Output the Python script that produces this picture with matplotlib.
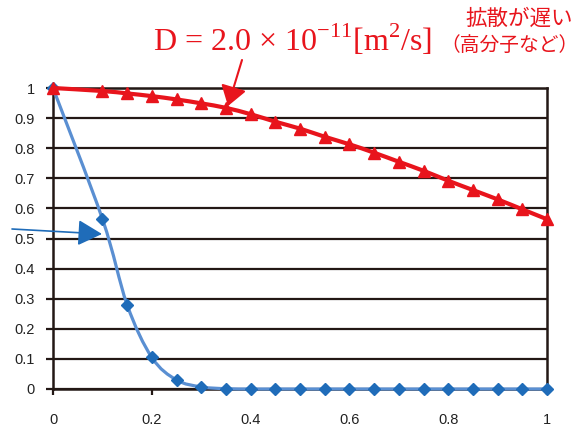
import numpy as np
import matplotlib
matplotlib.use("Agg")
import matplotlib.pyplot as plt
from matplotlib.path import Path
from matplotlib.patches import PathPatch, FancyArrowPatch

# data (no point at x=0.05)
x = [0.0, 0.1, 0.15, 0.2, 0.25, 0.3, 0.35, 0.4, 0.45, 0.5, 0.55,
     0.6, 0.65, 0.7, 0.75, 0.8, 0.85, 0.9, 0.95, 1.0]
fast = [1.0, 0.565, 0.28, 0.105, 0.03, 0.007, 0.001, 0.0, 0.0, 0.0, 0.0,
        0.0, 0.0, 0.0, 0.0, 0.0, 0.0, 0.0, 0.0, 0.0]
slow = [1.0, 0.99, 0.982, 0.973, 0.962, 0.949, 0.934, 0.913, 0.888, 0.865, 0.838,
        0.813, 0.785, 0.755, 0.725, 0.692, 0.661, 0.630, 0.597, 0.564]

xticks = [0, 0.2, 0.4, 0.6, 0.8, 1]
yticks = [0, 0.1, 0.2, 0.3, 0.4, 0.5, 0.6, 0.7, 0.8, 0.9, 1]

label_d = "D = 2.0 × 10$^{\\mathregular{-11}}$[m$^{\\mathregular{2}}$/s]"
label_jp1 = "拡散が遅い"
label_jp2 = "（高分子など）"

RED = "#e8141c"
BLUE_LINE = "#5a8fd2"
BLUE_MK = "#1f6cb9"
DARK = "#231815"


def smooth_path(xs, ys):
    # excel-like smoothed line: catmull-rom segments as cubic beziers
    p = np.column_stack([xs, ys])
    verts = [p[0]]
    codes = [Path.MOVETO]
    n = len(p)
    for i in range(n - 1):
        p0 = p[i - 1] if i > 0 else p[i]
        p3 = p[i + 2] if i + 2 < n else p[i + 1]
        c1 = p[i] + (p[i + 1] - p0) / 6
        c2 = p[i + 1] - (p3 - p[i]) / 6
        verts += [c1, c2, p[i + 1]]
        codes += [Path.CURVE4] * 3
    return Path(verts, codes)


fig = plt.figure(figsize=(5.82, 4.28), dpi=100)
ax = fig.add_axes([53 / 582, 39 / 428, 494 / 582, 301 / 428])

ax.set_xlim(0, 1)
ax.set_ylim(0, 1)
ax.set_yticks(yticks)
ax.set_yticklabels([f"{v:g}" for v in yticks])
ax.set_xticks(xticks)
ax.set_xticklabels([f"{v:g}" for v in xticks])
ax.grid(axis="y", color=DARK, linewidth=1.6)
ax.set_axisbelow(True)
for s in ax.spines.values():
    s.set_color(DARK)
    s.set_linewidth(1.8)
ax.tick_params(axis="y", direction="out", length=5, width=1.6, color=DARK,
               pad=8, labelsize=10.5, labelcolor="#222222")
ax.tick_params(axis="x", direction="out", length=4, width=1.6, color=DARK,
               pad=13, labelsize=10.5, labelcolor="#222222")
for t in ax.get_xticklabels() + ax.get_yticklabels():
    t.set_fontfamily("Liberation Sans")

ax.add_patch(PathPatch(smooth_path(x, fast), facecolor="none",
                       edgecolor=BLUE_LINE, linewidth=2.3, clip_on=False, zorder=3))
ax.plot(x, fast, linestyle="none", marker="D", markersize=6.2,
        color=BLUE_MK, clip_on=False, zorder=4)

ax.add_patch(PathPatch(smooth_path(x, slow), facecolor="none",
                       edgecolor=RED, linewidth=3, clip_on=False, zorder=5))
ax.plot(x, slow, linestyle="none", marker="^", markersize=8,
        color=RED, clip_on=False, zorder=6)

# annotations
fig.text(293 / 582, 1 - 40 / 428, label_d, color=RED, fontsize=23,
         family="Liberation Serif", ha="center", va="center")
fig.text(519 / 582, 1 - 19 / 428, label_jp1, color=RED, fontsize=15.5,
         family=["Noto Sans CJK JP", "DejaVu Sans"], ha="center", va="center")
fig.text(579 / 582, 1 - 45 / 428, label_jp2, color=RED, fontsize=14.2,
         family=["Noto Sans CJK JP", "DejaVu Sans"], ha="right", va="center")

fig.add_artist(FancyArrowPatch(
    (242 / 582, 1 - 60 / 428), (228 / 582, 1 - 106 / 428),
    transform=fig.transFigure, arrowstyle="-|>,head_length=12,head_width=8",
    color=RED, linewidth=1.5, mutation_scale=1, shrinkA=0, shrinkB=0))
fig.add_artist(FancyArrowPatch(
    (12 / 582, 1 - 229 / 428), (102 / 582, 1 - 234 / 428),
    transform=fig.transFigure, arrowstyle="-|>,head_length=15,head_width=8",
    color=BLUE_MK, linewidth=1.2, mutation_scale=1, shrinkA=0, shrinkB=0))

fig.savefig("out.png", dpi=100)
